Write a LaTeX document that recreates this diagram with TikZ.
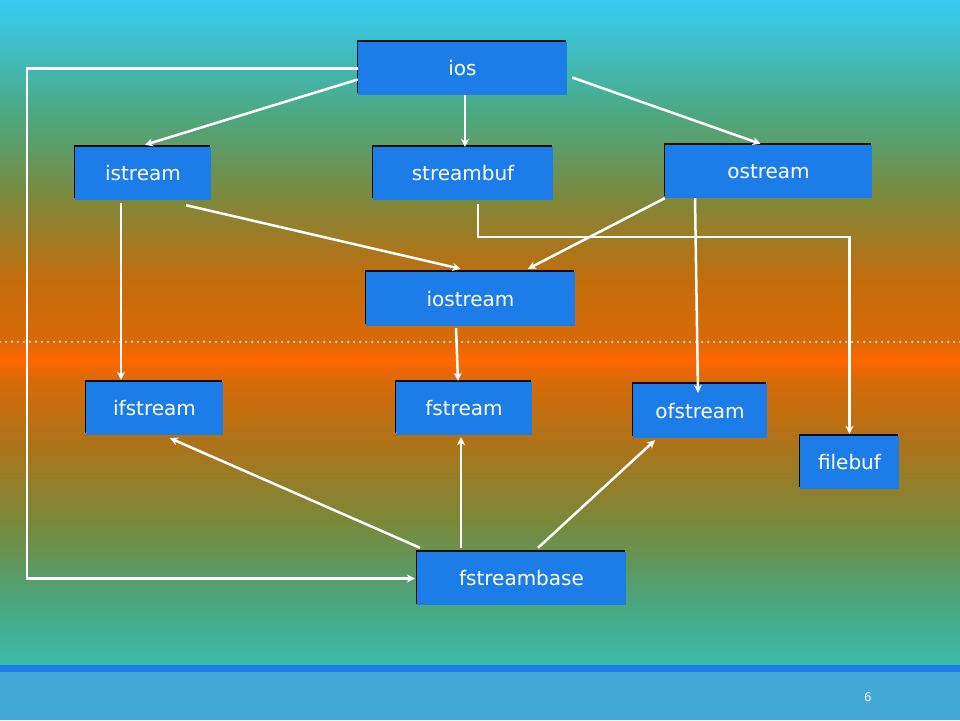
\documentclass[tikz,border=0pt]{standalone}
\usepackage{fontspec}
\setmainfont{DejaVu Sans}
\usetikzlibrary{arrows.meta,shadows}
\definecolor{boxblue}{HTML}{1C7CE8}
\definecolor{barblue}{HTML}{44A6D4}
\definecolor{bgA}{HTML}{3CBCAC}
\definecolor{bgB}{HTML}{4BA47C}
\definecolor{bgC}{HTML}{7B8838}
\definecolor{bgD}{HTML}{B07218}
\definecolor{bgE}{HTML}{D86A08}
\definecolor{bgF}{HTML}{FF6600}
\definecolor{bgG}{HTML}{C46C0C}
\definecolor{bgH}{HTML}{7E883A}
\definecolor{bgI}{HTML}{4EA67C}
\definecolor{bgJ}{HTML}{36CCF6}
\pgfdeclareverticalshading{slidebg}{100bp}{color(0bp)=(bgA); color(25bp)=(bgA);
  color(29.89bp)=(bgB); color(35.9bp)=(bgC); color(41.92bp)=(bgD); color(46.43bp)=(bgE);
  color(47.93bp)=(bgF); color(49.44bp)=(bgE); color(53.95bp)=(bgG); color(59.96bp)=(bgH);
  color(65.98bp)=(bgI); color(75bp)=(bgJ); color(100bp)=(bgJ)}
\begin{document}
\begin{tikzpicture}[x=1pt, y=1pt,
  cls/.style = {fill=boxblue, text=white, inner sep=0pt, font=\fontsize{20}{24}\selectfont,
    drop shadow={shadow xshift=-1.5pt, shadow yshift=1.5pt, fill=black, opacity=0.9}},
  arr/.style = {white, line width=2.5pt, -{Stealth[length=8pt,width=8pt]}}]
\useasboundingbox (0,0) rectangle (960,720);
\shade[shading=slidebg] (0,55) rectangle (960,720);
\fill[barblue] (0,0) rectangle (960,48);
\fill[boxblue] (0,48) rectangle (960,55);
\draw[white, line width=2pt, line cap=round, dash pattern=on 0pt off 6pt] (0,378) -- (960,378);
\node[text=white!90!barblue, font=\fontsize{12}{14}\selectfont] (page) at (868,23) {6};

\node[cls, minimum width=209pt, minimum height=53pt] (ios) at (462.5,651.5) {ios};
\node[cls, minimum width=136pt, minimum height=53pt] (istream) at (143,546.5) {istream};
\node[cls, minimum width=180pt, minimum height=53pt] (streambuf) at (463,546.5) {streambuf};
\node[cls, minimum width=207pt, minimum height=53pt] (ostream) at (768.5,548.5) {ostream};
\node[cls, minimum width=209pt, minimum height=54pt] (iostream) at (470.5,421) {iostream};
\node[cls, minimum width=137pt, minimum height=53pt] (ifstream) at (154.5,311.5) {ifstream};
\node[cls, minimum width=136pt, minimum height=53pt] (fstream) at (464,311.5) {fstream};
\node[cls, minimum width=134pt, minimum height=54pt] (ofstream) at (700,309) {ofstream};
\node[cls, minimum width=99pt, minimum height=53pt] (filebuf) at (849.5,257.5) {filebuf};
\node[cls, minimum width=209pt, minimum height=53pt] (fstreambase) at (521.5,141.5) {fstreambase};
\coordinate (lft) at (27,400);
\coordinate (bend) at (660,483);

\draw[arr] ([yshift=-11pt]ios.west) -- ([xshift=2pt,yshift=2pt]istream.north);
\draw[arr] ([xshift=2.5pt]ios.south) -- ([xshift=2pt]streambuf.north);
\draw[arr] ([xshift=5pt,yshift=-9pt]ios.east) -- ([xshift=-8pt,yshift=1pt]ostream.north);
\draw[arr] (ios.west) -| (lft) |- ([xshift=-2pt]fstreambase.west);
\draw[arr] ([xshift=43pt,yshift=-5pt]istream.south) -- ([xshift=-10pt,yshift=3pt]iostream.north);
\draw[arr] (ostream.south west) -- ([xshift=57.5pt,yshift=3pt]iostream.north);
\draw[arr] ([xshift=15pt,yshift=-4pt]streambuf.south) |- (bend) -| ([yshift=2pt]filebuf.north);
\draw[arr] ([xshift=-22pt,yshift=-3pt]istream.south) -- ([xshift=-33.5pt,yshift=2pt]ifstream.north);
\draw[arr] ([xshift=-14.5pt,yshift=-2pt]iostream.south) -- ([xshift=-6pt,yshift=1pt]fstream.north);
\draw[arr] ([xshift=-73.5pt]ostream.south) -- ([xshift=-2pt,yshift=-9pt]ofstream.north);
\draw[arr] ([xshift=-101.5pt,yshift=4pt]fstreambase.north) -- ([xshift=15.5pt,yshift=-3pt]ifstream.south);
\draw[arr] ([xshift=-60.5pt,yshift=4pt]fstreambase.north) -- ([xshift=-3pt,yshift=-2pt]fstream.south);
\draw[arr] ([xshift=16.5pt,yshift=4pt]fstreambase.north) -- ([xshift=-45pt,yshift=-2pt]ofstream.south);
\end{tikzpicture}
\end{document}
